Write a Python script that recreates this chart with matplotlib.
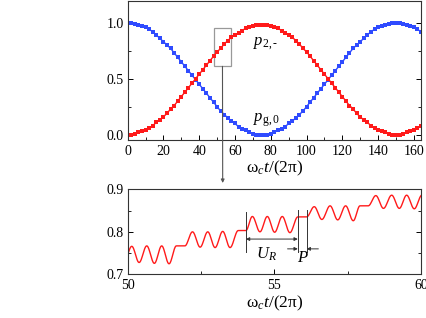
import numpy as np
import matplotlib
matplotlib.use('Agg')
import matplotlib.pyplot as plt

plt.rcParams['font.family'] = 'Liberation Serif'
plt.rcParams['mathtext.fontset'] = 'custom'
plt.rcParams['mathtext.rm'] = 'Liberation Serif'
plt.rcParams['mathtext.it'] = 'Liberation Serif:italic'

# top panel: populations vs omega_c t / 2pi
t_top = np.arange(0, 165, 2)
p2_minus = [0.00, 0.00, 0.01, 0.02, 0.03, 0.04, 0.06, 0.08, 0.11, 0.13,
            0.16, 0.19, 0.23, 0.26, 0.30, 0.34, 0.38, 0.42, 0.46, 0.50,
            0.54, 0.58, 0.62, 0.66, 0.70, 0.74, 0.77, 0.81, 0.84, 0.87,
            0.89, 0.91, 0.93, 0.95, 0.96, 0.97, 0.98, 0.98,
            0.98, 0.98, 0.97, 0.96, 0.95, 0.93, 0.91, 0.89, 0.87, 0.84,
            0.81, 0.77, 0.74, 0.70, 0.66, 0.62, 0.58, 0.54, 0.50, 0.46,
            0.42, 0.38, 0.34, 0.30, 0.26, 0.23, 0.19, 0.16, 0.13, 0.11,
            0.08, 0.06, 0.04, 0.03, 0.02, 0.01, 0.00, 0.00,
            0.00, 0.01, 0.02, 0.03, 0.04, 0.06, 0.08]
pg0 = [1.00, 1.00, 0.99, 0.98, 0.97, 0.96, 0.94, 0.92, 0.89, 0.86,
       0.83, 0.80, 0.77, 0.73, 0.69, 0.65, 0.61, 0.57, 0.53, 0.49,
       0.45, 0.41, 0.37, 0.33, 0.29, 0.25, 0.21, 0.18, 0.15, 0.12,
       0.10, 0.07, 0.05, 0.04, 0.02, 0.01, 0.00, 0.00,
       0.00, 0.00, 0.01, 0.02, 0.04, 0.05, 0.07, 0.10, 0.12, 0.15,
       0.18, 0.21, 0.25, 0.29, 0.33, 0.37, 0.41, 0.45, 0.49, 0.53,
       0.57, 0.61, 0.65, 0.69, 0.73, 0.77, 0.80, 0.83, 0.86, 0.89,
       0.92, 0.94, 0.96, 0.97, 0.98, 0.99, 1.00, 1.00,
       1.00, 0.99, 0.98, 0.97, 0.96, 0.94, 0.92]

# bottom panel: turning points of the zoomed curve
zoom_t = [49.90, 50.14, 50.39, 50.65, 50.91, 51.16, 51.41, 51.66, 51.95,
          52.21, 52.47, 52.73, 52.98, 53.24, 53.49, 53.77, 54.03,
          54.25, 54.51, 54.76, 55.01, 55.27, 55.53, 55.80, 56.10,
          56.36, 56.62, 56.90, 57.16, 57.43, 57.69, 57.92, 58.20,
          58.46, 58.72, 59.00, 59.26, 59.51, 59.77, 60.03]
zoom_p = [0.735, 0.766, 0.728, 0.767, 0.726, 0.767, 0.725, 0.767, 0.767,
          0.800, 0.764, 0.800, 0.763, 0.801, 0.763, 0.803, 0.803,
          0.836, 0.800, 0.836, 0.799, 0.836, 0.798, 0.835, 0.835,
          0.859, 0.829, 0.861, 0.828, 0.861, 0.826, 0.861, 0.861,
          0.885, 0.855, 0.886, 0.855, 0.886, 0.854, 0.886]

# smooth half-cosine between turning points, straight where flat
xs, ys = [], []
for i in range(len(zoom_t) - 1):
    s = np.linspace(0, 1, 30)
    xs.append(zoom_t[i] + (zoom_t[i+1] - zoom_t[i]) * s)
    ys.append(zoom_p[i] + (zoom_p[i+1] - zoom_p[i]) * (1 - np.cos(np.pi * s)) / 2)
xs = np.concatenate(xs)
ys = np.concatenate(ys)

fig = plt.figure(figsize=(4.27, 3.18), dpi=100)
ax1 = fig.add_axes([0.299, 0.560, 0.687, 0.437])
ax2 = fig.add_axes([0.299, 0.137, 0.687, 0.268])

ax1.plot(t_top, pg0, color='#2f4bff', marker='s', ms=2.6, lw=1.0, mew=0)
ax1.plot(t_top, p2_minus, color='#ff1a1a', marker='s', ms=2.6, lw=1.0, mew=0)
ax1.set_xlim(0, 164)
ax1.set_ylim(-0.047, 1.194)
ax1.set_xticks(range(0, 161, 20))
ax1.set_xticks(range(10, 161, 20), minor=True)
ax1.set_yticks([0.0, 0.5, 1.0])
ax1.set_yticks([0.25, 0.75], minor=True)
ax1.set_yticklabels(['0.0', '0.5', '1.0'])
ax1.set_xlabel(r'$\mathrm{\omega}_c t/(2\mathrm{\pi})$', fontsize=12.5, labelpad=1)
ax1.text(70, 0.80, r'$p_{\mathrm{2,}\text{-}}$', fontsize=12)
ax1.text(70, 0.12, r'$p_{\mathrm{g,0}}$', fontsize=12)
ax1.add_patch(plt.Rectangle((48.5, 0.61), 9.5, 0.345, fill=False,
                            ec='#999999', lw=0.9))
ax1.annotate('', xy=(222.7 / 427, 1 - 183 / 318), xycoords='figure fraction',
             xytext=(53, 0.61), textcoords='data',
             arrowprops=dict(arrowstyle='-|>', color='#555555', lw=0.8,
                             mutation_scale=5, shrinkA=0, shrinkB=0))

ax2.plot(xs, ys, color='#ff1a1a', lw=1.0)
ax2.set_xlim(50, 60)
ax2.set_ylim(0.7, 0.9)
ax2.set_xticks([50, 55, 60])
ax2.set_xticks([52.5, 57.5], minor=True)
ax2.set_yticks([0.7, 0.8, 0.9])
ax2.set_yticks([0.75, 0.85], minor=True)
ax2.set_xlabel(r'$\mathrm{\omega}_c t/(2\mathrm{\pi})$', fontsize=12.5, labelpad=1)

# U_R and P markers
for xv, y0, y1 in [(54.03, 0.753, 0.847), (55.80, 0.753, 0.851), (56.10, 0.753, 0.851)]:
    ax2.plot([xv, xv], [y0, y1], color='#333333', lw=0.7)
ax2.annotate('', xy=(54.03, 0.783), xytext=(55.80, 0.783),
             arrowprops=dict(arrowstyle='<|-|>', color='#333333', lw=0.7,
                             mutation_scale=5, shrinkA=0, shrinkB=0))
ax2.annotate('', xy=(55.80, 0.760), xytext=(55.45, 0.760),
             arrowprops=dict(arrowstyle='-|>', color='#333333', lw=0.7,
                             mutation_scale=5, shrinkA=0, shrinkB=0))
ax2.annotate('', xy=(56.10, 0.760), xytext=(56.50, 0.760),
             arrowprops=dict(arrowstyle='-|>', color='#333333', lw=0.7,
                             mutation_scale=5, shrinkA=0, shrinkB=0))
ax2.text(54.74, 0.748, r'$U_R$', fontsize=12, ha='center', va='center')
ax2.text(55.97, 0.738, r'$P$', fontsize=12, ha='center', va='center')

for ax in (ax1, ax2):
    ax.tick_params(which='both', direction='in', right=True, labelsize=10)
    ax.tick_params(axis='x', pad=3.5)
    ax.tick_params(axis='y', pad=3)
    ax.tick_params(which='major', length=3.5, width=0.7)
    ax.tick_params(which='minor', length=2, width=0.6)
    for sp in ax.spines.values():
        sp.set_color('#333333')
        sp.set_linewidth(0.8)

fig.savefig('out.png', dpi=100)
